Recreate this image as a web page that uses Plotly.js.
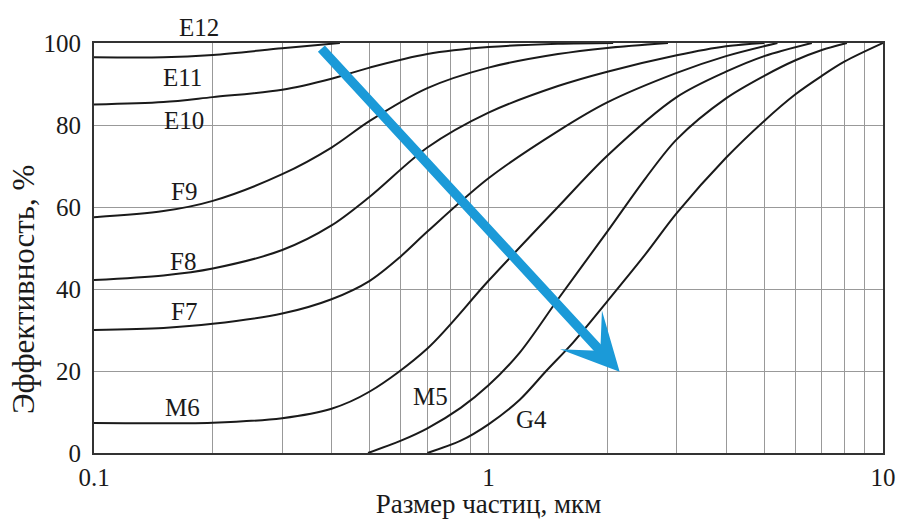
<!DOCTYPE html>
<html>
<head>
<meta charset="utf-8">
<script src="https://cdn.plot.ly/plotly-3.0.1.min.js"></script>
<style>
  html, body { margin: 0; padding: 0; background: #ffffff; }
  #chart { width: 898px; height: 519px; }
</style>
</head>
<body>
<div id="chart"></div>
<script>
// Fractional efficiency of filter classes vs particle size (log scale)
const classNames = ["E12", "E11", "E10", "F9", "F8", "F7", "M6", "M5", "G4"];

// particle size, µm  /  efficiency, %
const sizeA = [0.1, 0.15, 0.2, 0.3, 0.42];
const effA  = [96.5, 96.5, 97.1, 98.7, 100];

const sizeB = [0.1, 0.15, 0.2, 0.3, 0.4, 0.5, 0.7, 1.0, 1.5, 2.07];
const effB  = [85.0, 85.6, 86.8, 88.6, 91.3, 94.0, 97.3, 99.0, 99.8, 100];

const sizeC = [0.1, 0.15, 0.2, 0.3, 0.4, 0.5, 0.7, 1.0, 1.5, 2.0, 2.85];
const effC  = [57.5, 59.0, 61.5, 68.0, 74.5, 81.0, 89.0, 94.0, 97.3, 98.8, 100];

const sizeD = [0.1, 0.15, 0.2, 0.3, 0.4, 0.5, 0.7, 1.0, 1.5, 2.0, 3.0, 4.0, 5.0];
const effD  = [42.2, 43.3, 45.0, 49.5, 55.5, 62.5, 74.5, 83.0, 89.5, 93.0, 97.0, 99.2, 100];

const sizeE = [0.1, 0.15, 0.2, 0.3, 0.4, 0.5, 0.6, 0.7, 1.0, 1.5, 2.0, 3.0, 4.0, 5.4];
const effE  = [30.0, 30.5, 31.5, 34.0, 37.5, 42.0, 48.0, 54.0, 67.0, 78.5, 85.5, 92.7, 96.8, 100];

const sizeF = [0.1, 0.2, 0.3, 0.4, 0.5, 0.7, 1.0, 1.5, 2.0, 3.0, 4.0, 5.0, 6.6];
const effF  = [7.3, 7.4, 8.5, 10.8, 15.0, 25.5, 42.0, 60.0, 72.5, 86.8, 93.0, 96.8, 100];

const sizeG = [0.495, 0.6, 0.7, 0.85, 1.0, 1.2, 1.5, 2.0, 2.5, 3.0, 4.0, 5.0, 6.0, 7.0, 8.1];
const effG  = [0, 3.0, 6.0, 11.0, 16.5, 24.5, 37.5, 54.0, 67.0, 76.5, 86.5, 92.0, 95.8, 98.3, 100];

const sizeH = [0.7, 0.85, 1.0, 1.2, 1.4, 1.64, 2.0, 2.5, 3.0, 4.0, 5.0, 6.0, 7.0, 8.0, 10.0];
const effH  = [0, 3.0, 7.0, 13.0, 20.0, 27.0, 37.0, 48.5, 58.5, 72.0, 81.0, 87.5, 92.0, 95.5, 100];

// class label anchor points (µm, %)
const labelSize = [0.185, 0.168, 0.169, 0.169, 0.168, 0.169, 0.168, 0.711, 1.282];
const labelEff  = [103.9, 91.7, 81.2, 63.7, 46.8, 34.6, 11.0, 13.9, 8.05];

// trend arrow: from (µm, %) to (µm, %)
const arrowFrom = [0.374, 99.0];
const arrowTo   = [2.15, 19.8];

// axis ticks
const xTickVals = [0.1,0.2,0.3,0.4,0.5,0.6,0.7,0.8,0.9,1,2,3,4,5,6,7,8,9,10];
const xTickText = xTickVals.map(v => (v === 0.1 ? "0.1" : v === 1 ? "1" : v === 10 ? "10" : ""));
const yTickVals = [0, 20, 40, 60, 80, 100];

const curves = [
  [sizeA, effA], [sizeB, effB], [sizeC, effC], [sizeD, effD],
  [sizeE, effE], [sizeF, effF], [sizeG, effG], [sizeH, effH]
];

const traces = curves.map(c => ({
  x: c[0], y: c[1], type: "scatter", mode: "lines",
  line: { color: "#1a1a1a", width: 2, shape: "spline", smoothing: 0.9 },
  hoverinfo: "skip", showlegend: false
}));

const serif = "Liberation Serif";
const yMax = 100;

// labels placed in paper units so the top one can sit above the frame
const annotations = classNames.map((name, i) => ({
  x: Math.log10(labelSize[i]), y: labelEff[i] / yMax, xref: "x", yref: "paper",
  text: name, showarrow: false, xanchor: "center", yanchor: "middle",
  font: { family: serif, size: 25, color: "#1a1a1a" }
}));

annotations.push({
  x: Math.log10(arrowTo[0]), y: arrowTo[1], xref: "x", yref: "y",
  ax: Math.log10(arrowFrom[0]), ay: arrowFrom[1], axref: "x", ayref: "y",
  text: "", showarrow: true, arrowhead: 3, arrowsize: 1.0, arrowwidth: 9.5,
  arrowcolor: "#1b9ad8", standoff: 0
});

annotations.push({
  x: -0.09, y: 0.4, xref: "paper", yref: "paper",
  text: "Эффективность, %", textangle: -90, showarrow: false,
  xanchor: "center", yanchor: "middle",
  font: { family: serif, size: 31, color: "#1a1a1a" }
});

const layout = {
  width: 898, height: 519,
  margin: { l: 94, r: 15, t: 43, b: 66 },
  paper_bgcolor: "#ffffff", plot_bgcolor: "#ffffff",
  showlegend: false,
  xaxis: {
    type: "log", range: [-1, 1],
    tickvals: xTickVals, ticktext: xTickText,
    showgrid: true, gridcolor: "#999999", gridwidth: 1,
    showline: true, linecolor: "#333333", linewidth: 2, mirror: true,
    ticks: "", ticklabelstandoff: 1,
    tickfont: { family: serif, size: 25, color: "#1a1a1a" },
    zeroline: false,
    title: { text: "Размер частиц, мкм", standoff: 1,
             font: { family: serif, size: 27, color: "#1a1a1a" } }
  },
  yaxis: {
    range: [0, yMax], tickvals: yTickVals,
    showgrid: true, gridcolor: "#999999", gridwidth: 1,
    showline: true, linecolor: "#333333", linewidth: 2, mirror: true,
    ticks: "", ticklabelstandoff: 6,
    tickfont: { family: serif, size: 25, color: "#1a1a1a" },
    zeroline: false
  },
  annotations: annotations
};

Plotly.newPlot("chart", traces, layout, { staticPlot: true, displayModeBar: false });
</script>
</body>
</html>
